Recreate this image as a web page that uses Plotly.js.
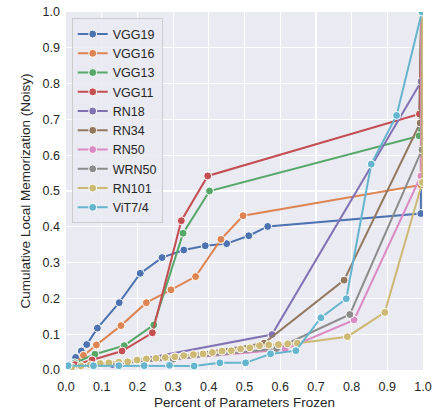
<!DOCTYPE html>
<html>
<head>
<meta charset="utf-8">
<script src="https://cdn.plot.ly/plotly-3.0.1.min.js"></script>
<style>html,body{margin:0;padding:0;background:#fff;}#chart{width:437px;height:416px;}</style>
</head>
<body>
<div id="chart"></div>
<script>
const seriesNames = ["VGG19","VGG16","VGG13","VGG11","RN18","RN34","RN50","WRN50","RN101","ViT7/4"];
const colors = ["#4c72b0","#dd8452","#55a868","#c44e52","#8172b3","#937860","#da8bc3","#8c8c8c","#ccb974","#64b5cd"];

const vgg19X = [0.01,0.027,0.043,0.058,0.088,0.149,0.208,0.269,0.330,0.390,0.450,0.512,0.565,0.994,0.995];
const vgg19Y = [0.015,0.035,0.053,0.071,0.117,0.188,0.270,0.314,0.335,0.347,0.353,0.375,0.401,0.437,1.0];

const vgg16X = [0.015,0.049,0.085,0.154,0.225,0.294,0.363,0.434,0.496,0.994,0.995];
const vgg16Y = [0.012,0.041,0.070,0.124,0.188,0.224,0.261,0.365,0.431,0.517,1.0];

const vgg13X = [0.025,0.081,0.163,0.246,0.328,0.402,0.989,0.995];
const vgg13Y = [0.02,0.044,0.068,0.126,0.382,0.500,0.654,1.0];

const vgg11X = [0.025,0.073,0.157,0.242,0.323,0.397,0.990,0.995];
const vgg11Y = [0.015,0.028,0.053,0.104,0.417,0.542,0.715,1.0];

const rn18X = [0.01,0.13,0.577,0.995,0.995];
const rn18Y = [0.01,0.015,0.099,0.806,1.0];

const rn34X = [0.01,0.30,0.555,0.779,0.992,0.995];
const rn34Y = [0.01,0.035,0.075,0.251,0.690,1.0];

const rn50X = [0.01,0.30,0.614,0.807,0.994,0.995];
const rn50Y = [0.01,0.03,0.058,0.140,0.542,1.0];

const wrn50X = [0.01,0.30,0.59,0.795,0.997,0.997];
const wrn50Y = [0.01,0.03,0.060,0.155,0.615,1.0];

const rn101X = [0.016,0.042,0.068,0.096,0.120,0.148,0.173,0.199,0.225,0.252,0.278,0.305,0.330,0.357,0.384,0.410,0.437,0.463,0.489,0.515,0.542,0.568,0.595,0.621,0.648,0.788,0.893,0.998,0.998];
const rn101Y = [0.008,0.011,0.014,0.018,0.020,0.022,0.023,0.028,0.031,0.033,0.035,0.037,0.040,0.043,0.045,0.049,0.053,0.054,0.059,0.062,0.068,0.070,0.071,0.073,0.075,0.093,0.161,0.524,1.0];

const vitX = [0.006,0.077,0.148,0.219,0.290,0.359,0.431,0.503,0.573,0.644,0.714,0.785,0.855,0.926,0.997];
const vitY = [0.012,0.012,0.012,0.012,0.013,0.011,0.020,0.020,0.045,0.054,0.146,0.199,0.575,0.711,1.0];

const xs = [vgg19X,vgg16X,vgg13X,vgg11X,rn18X,rn34X,rn50X,wrn50X,rn101X,vitX];
const ys = [vgg19Y,vgg16Y,vgg13Y,vgg11Y,rn18Y,rn34Y,rn50Y,wrn50Y,rn101Y,vitY];

const ticks = [0,0.1,0.2,0.3,0.4,0.5,0.6,0.7,0.8,0.9,1.0];
const tickLabels = ["0.0","0.1","0.2","0.3","0.4","0.5","0.6","0.7","0.8","0.9","1.0"];

const traces = seriesNames.map((n,i)=>({
  x: xs[i], y: ys[i], name: n, type:'scatter', mode:'lines+markers',
  line:{color:colors[i], width:2},
  marker:{color:colors[i], size:8, line:{color:'#ffffff', width:1}},
  cliponaxis:true
}));

const FONT = '"Liberation Sans", Arial, Helvetica, sans-serif';
const layout = {
  width:437, height:416,
  margin:{l:66, r:14, t:12, b:46},
  paper_bgcolor:'#ffffff', plot_bgcolor:'#eaeaf2',
  font:{family:FONT, size:12.5, color:'#262626'},
  xaxis:{range:[0,1], tickvals:ticks, ticktext:tickLabels, showgrid:true, gridcolor:'#ffffff', gridwidth:1.2,
         zeroline:false, showline:false, ticks:'', ticklabelstandoff:7, tickfont:{family:FONT, size:12.5, color:'#262626'},
         title:{text:'Percent of Parameters Frozen', font:{family:FONT, size:13.5, color:'#262626'}, standoff:5}},
  yaxis:{range:[0,1], tickvals:ticks, ticktext:tickLabels, showgrid:true, gridcolor:'#ffffff', gridwidth:1.2,
         zeroline:false, showline:false, ticks:'', ticklabelstandoff:5, tickfont:{family:FONT, size:12.5, color:'#262626'},
         title:{text:'Cumulative Local Memorization (Noisy)', font:{family:FONT, size:13.5, color:'#262626'}, standoff:8}},
  legend:{x:0.016, y:0.982, xanchor:'left', yanchor:'top', bgcolor:'rgba(234,234,242,0.85)',
          bordercolor:'#cccccc', borderwidth:1, font:{family:FONT, size:12.5, color:'#262626'}, itemwidth:30, tracegroupgap:0},
  showlegend:true
};

Plotly.newPlot('chart', traces, layout, {displayModeBar:false, staticPlot:true});
</script>
</body>
</html>
